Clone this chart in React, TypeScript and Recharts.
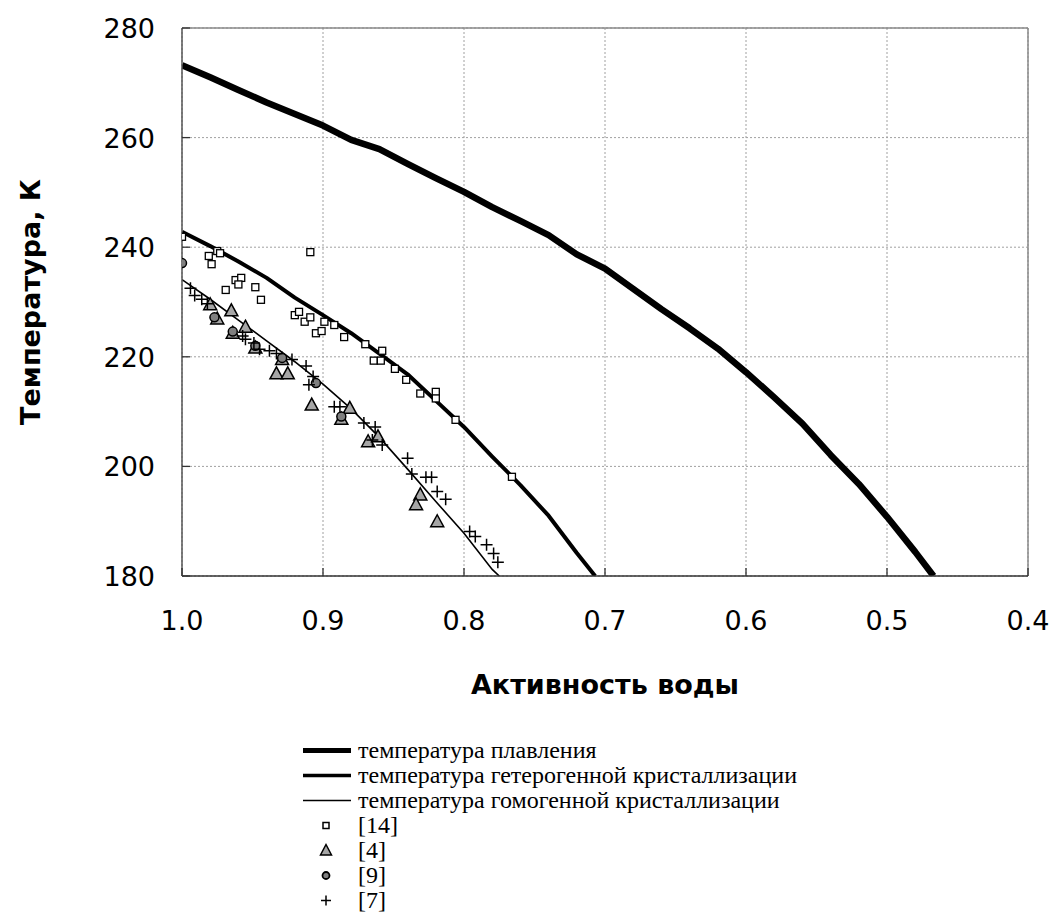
import { ComposedChart, Line, Scatter, XAxis, YAxis, CartesianGrid, ReferenceLine } from 'recharts';

// water activity (a) vs temperature (t)
const X_TICKS = [1.0, 0.9, 0.8, 0.7, 0.6, 0.5, 0.4];
const Y_TICKS = [180, 200, 220, 240, 260, 280];

const MELTING: [number, number][] = [
  [1.0, 273.2], [0.98, 271.0], [0.96, 268.7], [0.94, 266.4], [0.92, 264.3], [0.9, 262.2],
  [0.88, 259.6], [0.86, 257.9], [0.84, 255.2], [0.82, 252.6], [0.8, 250.1], [0.78, 247.3],
  [0.76, 244.8], [0.74, 242.2], [0.72, 238.7], [0.7, 236.1], [0.68, 232.4], [0.66, 228.7],
  [0.64, 225.2], [0.62, 221.5], [0.6, 217.2], [0.58, 212.6], [0.56, 207.8], [0.54, 202.1],
  [0.52, 196.8], [0.5, 190.8], [0.48, 184.4], [0.467, 180],
];

const HETEROGENEOUS: [number, number][] = [
  [1.0, 242.8], [0.98, 240.2], [0.96, 237.4], [0.94, 234.4], [0.92, 230.8], [0.9, 227.6],
  [0.88, 224.3], [0.86, 220.6], [0.84, 216.8], [0.82, 212.0], [0.8, 207.2], [0.78, 201.8],
  [0.76, 196.6], [0.74, 191.0], [0.72, 184.2], [0.707, 180],
];

const HOMOGENEOUS: [number, number][] = [
  [1.0, 234.1], [0.98, 230.5], [0.96, 226.7], [0.94, 222.9], [0.92, 219.1], [0.9, 215.0],
  [0.88, 210.5], [0.86, 205.3], [0.84, 199.5], [0.82, 193.6], [0.8, 187.8], [0.78, 181.2],
  [0.775, 180],
];

const REF_14: [number, number][] = [
  [1.0, 241.9], [0.981, 238.4], [0.975, 239.3], [0.973, 238.9], [0.979, 236.9], [0.962, 234.0],
  [0.958, 234.4], [0.96, 233.2], [0.969, 232.2], [0.948, 232.7], [0.944, 230.4], [0.909, 239.1],
  [0.92, 227.6], [0.917, 228.2], [0.913, 226.4], [0.909, 227.2], [0.905, 224.3], [0.901, 224.7],
  [0.899, 226.4], [0.892, 225.8], [0.885, 223.6], [0.87, 222.3], [0.858, 221.1], [0.864, 219.3],
  [0.859, 219.3], [0.849, 217.8], [0.841, 215.8], [0.831, 213.3], [0.82, 213.6], [0.82, 212.4],
  [0.806, 208.5], [0.766, 198.1],
];

const REF_4: [number, number][] = [
  [0.98, 229.5], [0.975, 226.9], [0.965, 228.4], [0.955, 225.4], [0.964, 224.3], [0.948, 221.6],
  [0.929, 219.5], [0.933, 216.9], [0.925, 216.9], [0.908, 211.2], [0.881, 210.6], [0.887, 208.6],
  [0.868, 204.5], [0.861, 205.4], [0.831, 194.8], [0.834, 193.0], [0.819, 189.9],
];

const REF_9: [number, number][] = [
  [1.0, 237.1], [0.977, 227.2], [0.964, 224.6], [0.948, 222.0], [0.929, 219.8], [0.905, 215.2],
  [0.887, 209.1],
];

const REF_7: [number, number][] = [
  [0.994, 232.5], [0.991, 231.2], [0.986, 230.5], [0.982, 229.7], [0.957, 223.8], [0.955, 223.2],
  [0.949, 222.5], [0.945, 221.4], [0.938, 221.1], [0.933, 220.6], [0.922, 219.5], [0.912, 218.3],
  [0.907, 216.4], [0.91, 214.9], [0.892, 210.9], [0.888, 210.9], [0.871, 207.9], [0.863, 207.2],
  [0.865, 204.8], [0.858, 203.9], [0.84, 201.5], [0.837, 198.6], [0.827, 198.0], [0.823, 198.0],
  [0.819, 195.4], [0.813, 194.0], [0.796, 188.1], [0.792, 187.2], [0.784, 185.7], [0.779, 184.1],
  [0.776, 182.5],
];

const toPts = (arr: [number, number][]) => arr.map(([a, t]) => ({ a, t }));

const W = 1053;
const H = 921;
const SANS = '"DejaVu Sans", Verdana, sans-serif';
const SERIF = '"Liberation Serif", "Times New Roman", serif';

const SquareDot = ({ cx, cy }: any) => (
  <rect x={cx - 3.5} y={cy - 3.5} width={7} height={7} fill="#fff" stroke="#000" strokeWidth={1.3} />
);
const TriangleDot = ({ cx, cy }: any) => (
  <polygon
    points={`${cx},${cy - 7} ${cx + 6.5},${cy + 5} ${cx - 6.5},${cy + 5}`}
    fill="#a6a6a6"
    stroke="#000"
    strokeWidth={1.5}
  />
);
const CircleDot = ({ cx, cy }: any) => (
  <circle cx={cx} cy={cy} r={4.5} fill="#808080" stroke="#000" strokeWidth={1.5} />
);
const PlusDot = ({ cx, cy }: any) => (
  <path d={`M${cx - 6},${cy}H${cx + 6}M${cx},${cy - 6}V${cy + 6}`} stroke="#000" strokeWidth={1.5} />
);

const XTick = ({ x, y, payload }: any) => (
  <g>
    <line x1={x} y1={y} x2={x} y2={y - 8} stroke="#333" strokeWidth={1.3} />
    <text x={x} y={y + 54} textAnchor="middle" fontSize={27} fontFamily={SANS} fill="#000">
      {Number(payload.value).toFixed(1)}
    </text>
  </g>
);

const YTick = ({ x, y, payload }: any) => (
  <g>
    <line x1={x} y1={y} x2={x + 8} y2={y} stroke="#333" strokeWidth={1.3} />
    <text x={x - 27} y={y + 10} textAnchor="end" fontSize={27} fontFamily={SANS} fill="#000">
      {payload.value}
    </text>
  </g>
);

const LEGEND = [
  { label: 'температура плавления', kind: 'line', width: 5 },
  { label: 'температура гетерогенной кристаллизации', kind: 'line', width: 3.5 },
  { label: 'температура гомогенной кристаллизации', kind: 'line', width: 1.3 },
  { label: '[14]', kind: 'square' },
  { label: '[4]', kind: 'triangle' },
  { label: '[9]', kind: 'circle' },
  { label: '[7]', kind: 'plus' },
];

function LegendMark({ kind, width }: { kind: string; width?: number }) {
  return (
    <svg width={52} height={25} style={{ display: 'block' }}>
      {kind === 'line' && <line x1={3} y1={12.5} x2={51} y2={12.5} stroke="#000" strokeWidth={width} />}
      {kind === 'square' && <rect x={23} y={9.5} width={6} height={6} fill="#fff" stroke="#000" strokeWidth={1.5} />}
      {kind === 'triangle' && (
        <polygon points="26,6.5 31.5,17 20.5,17" fill="#a6a6a6" stroke="#000" strokeWidth={1.5} />
      )}
      {kind === 'circle' && <circle cx={26} cy={12.5} r={3.5} fill="#808080" stroke="#000" strokeWidth={1.8} />}
      {kind === 'plus' && <path d="M21,12.5H31M26,7.5V17.5" stroke="#000" strokeWidth={1.5} />}
    </svg>
  );
}

export default function App() {
  return (
    <div style={{ position: 'absolute', left: 0, top: 0, width: W, height: H, background: '#fff' }}>
      <ComposedChart width={W} height={H} margin={{ top: 28, right: 25, left: 0, bottom: 225 }}>
        <CartesianGrid stroke="#a0a0a0" strokeDasharray="2 2" strokeWidth={1} />
        <XAxis
          dataKey="a"
          type="number"
          domain={[0.4, 1.0]}
          ticks={X_TICKS}
          reversed
          interval={0}
          height={120}
          tickSize={0}
          tickMargin={0}
          tickLine={false}
          tick={<XTick />}
          axisLine={{ stroke: '#333', strokeWidth: 1.5 }}
          allowDataOverflow
          label={{
            value: 'Активность воды',
            position: 'insideBottom',
            offset: 2,
            style: { fontFamily: SANS, fontSize: 27, fontWeight: 'bold', fill: '#000' },
          }}
        />
        <YAxis
          dataKey="t"
          type="number"
          domain={[180, 280]}
          ticks={Y_TICKS}
          interval={0}
          width={182}
          tickSize={0}
          tickMargin={0}
          tickLine={false}
          tick={<YTick />}
          axisLine={{ stroke: '#555', strokeWidth: 1.5 }}
          allowDataOverflow
          label={{
            value: 'Температура, К',
            angle: -90,
            position: 'insideLeft',
            offset: 30,
            style: { textAnchor: 'middle', fontFamily: SANS, fontSize: 27, fontWeight: 'bold', fill: '#000' },
          }}
        />
        <ReferenceLine y={280} stroke="#8a8a8a" strokeWidth={1.5} />
        <ReferenceLine x={0.4} stroke="#8a8a8a" strokeWidth={1.5} />
        <Line data={toPts(MELTING)} dataKey="t" type="linear" stroke="#000" strokeWidth={6.5} dot={false} activeDot={false} isAnimationActive={false} strokeLinejoin="round" />
        <Line data={toPts(HETEROGENEOUS)} dataKey="t" type="linear" stroke="#000" strokeWidth={4} dot={false} activeDot={false} isAnimationActive={false} strokeLinejoin="round" />
        <Line data={toPts(HOMOGENEOUS)} dataKey="t" type="linear" stroke="#000" strokeWidth={1.6} dot={false} activeDot={false} isAnimationActive={false} />
        <Scatter data={toPts(REF_14)} dataKey="t" shape={<SquareDot />} isAnimationActive={false} />
        <Scatter data={toPts(REF_4)} dataKey="t" shape={<TriangleDot />} isAnimationActive={false} />
        <Scatter data={toPts(REF_9)} dataKey="t" shape={<CircleDot />} isAnimationActive={false} />
        <Scatter data={toPts(REF_7)} dataKey="t" shape={<PlusDot />} isAnimationActive={false} />
      </ComposedChart>
      <div
        style={{
          position: 'absolute',
          left: 300,
          top: 738,
          fontFamily: SERIF,
          fontSize: 24,
          lineHeight: '25px',
          color: '#000',
        }}
      >
        {LEGEND.map((l) => (
          <div key={l.label} style={{ display: 'flex', alignItems: 'center', height: 25 }}>
            <LegendMark kind={l.kind} width={l.width} />
            <span style={{ marginLeft: 6, whiteSpace: 'nowrap' }}>{l.label}</span>
          </div>
        ))}
      </div>
    </div>
  );
}
